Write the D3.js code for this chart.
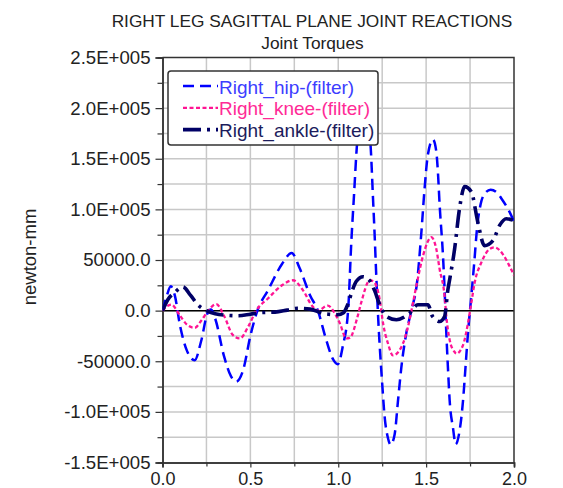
<!DOCTYPE html>
<html>
<head>
<meta charset="utf-8">
<script src="https://cdn.jsdelivr.net/npm/d3@7"></script>
<style>
  body { margin: 0; background: #fff; }
  text { font-family: "Liberation Sans", Arial, sans-serif; }
</style>
</head>
<body>
<div id="chart"></div>
<script>
// series data: [time, torque]
const hip = [[0,0],[0.025,15000],[0.047,24000],[0.07,15000],[0.1,-15000],[0.14,-40000],[0.183,-49000],
  [0.22,-30000],[0.255,-3000],[0.275,1000],[0.3,-8000],[0.35,-45000],[0.39,-65000],[0.42,-70000],
  [0.46,-58000],[0.5,-25000],[0.54,0],[0.6,20000],[0.68,46000],[0.735,57000],[0.78,42000],[0.84,15000],
  [0.884,0],[0.93,-28000],[0.97,-48000],[0.997,-53000],[1.026,-35000],[1.056,0],[1.075,70000],
  [1.09,115000],[1.105,160000],[1.125,192000],[1.145,200000],[1.165,192000],[1.185,160000],[1.198,110000],
  [1.207,75000],[1.215,40000],[1.228,-10000],[1.25,-72000],[1.264,-105000],[1.283,-126000],[1.298,-132500],
  [1.321,-122000],[1.34,-89000],[1.359,-56000],[1.387,-22500],[1.416,0],[1.448,27500],[1.473,77500],
  [1.491,120000],[1.51,154000],[1.539,169000],[1.558,157000],[1.567,137000],[1.577,104000],[1.596,54000],
  [1.605,21000],[1.615,-22500],[1.624,-56000],[1.634,-89000],[1.653,-116000],[1.668,-132000],[1.69,-119000],
  [1.71,-89000],[1.724,-56000],[1.738,-22500],[1.757,14000],[1.775,50000],[1.79,82000],[1.81,105000],
  [1.835,116000],[1.867,119500],[1.9,117000],[1.935,109000],[1.97,99000],[2.0,88000]]
const knee = [[0,0],[0.05,6000],[0.1,-5000],[0.14,-14000],[0.183,-17000],[0.22,-10000],[0.26,0],
  [0.306,6500],[0.35,-5000],[0.4,-24000],[0.44,-27500],[0.49,-15000],[0.533,0],[0.6,12000],[0.68,25000],
  [0.742,30000],[0.8,20000],[0.85,5000],[0.884,0],[0.94,5000],[0.98,-2500],[1.009,-12500],[1.046,-27500],
  [1.065,-27000],[1.11,-5800],[1.13,7500],[1.18,30000],[1.207,27500],[1.236,10800],[1.255,-12500],
  [1.283,-32500],[1.311,-44200],[1.368,-32500],[1.397,-15800],[1.425,7500],[1.448,27500],[1.482,54000],
  [1.53,72500],[1.558,60800],[1.577,40800],[1.605,14500],[1.615,-5800],[1.634,-29000],[1.662,-40800],
  [1.672,-42500],[1.71,-34000],[1.738,-12500],[1.757,7500],[1.776,27500],[1.814,47500],[1.861,60800],
  [1.889,62500],[1.936,55800],[1.974,44200],[2.0,35000]]
const ankle = [[0,0],[0.03,10800],[0.07,18000],[0.116,23500],[0.16,15000],[0.2,6000],[0.25,0],[0.3,-3000],
  [0.36,-4500],[0.43,-5000],[0.5,-3500],[0.56,-2000],[0.64,-1500],[0.71,500],[0.77,2300],[0.84,1500],
  [0.92,-3000],[0.997,-4000],[1.03,-2000],[1.054,6000],[1.08,20000],[1.103,29000],[1.141,33500],
  [1.179,29500],[1.207,19700],[1.236,5800],[1.274,-5800],[1.331,-9000],[1.406,-2500],[1.453,5800],
  [1.51,5800],[1.537,-5800],[1.577,-10800],[1.605,-5800],[1.624,20800],[1.634,30800],[1.662,60800],
  [1.69,100800],[1.719,122500],[1.757,117500],[1.794,87500],[1.832,64200],[1.88,69200],[1.918,84200],
  [1.956,90800],[2.0,89000]]

const seriesNames = ['Right_hip-(filter)', 'Right_knee-(filter)', 'Right_ankle-(filter)']
const yMajor = [-150000,-100000,-50000,0,50000,100000,150000,200000,250000]
const xMajor = [0,0.5,1.0,1.5,2.0]

const width = 563, height = 488
const pLeft = 162.5, pRight = 514, pTop = 57.5, pBottom = 462.5

const svg = d3.select('#chart').append('svg').attr('width', width).attr('height', height)

const x = d3.scaleLinear().domain([0,2]).range([pLeft,pRight])
const y = d3.scaleLinear().domain([-150000,250000]).range([pBottom,pTop])

// 网格
const grid = svg.append('g')
grid.selectAll('.gx').data(d3.range(0.25,2,0.25)).join('line')
  .attr('x1',d=>x(d)).attr('x2',d=>x(d)).attr('y1',pTop).attr('y2',pBottom)
  .attr('stroke','#c8c8c8').attr('stroke-width',1.5)
grid.selectAll('.gy').data(d3.range(-125000,250000,25000)).join('line')
  .attr('x1',pLeft).attr('x2',pRight).attr('y1',d=>y(d)).attr('y2',d=>y(d))
  .attr('stroke','#c8c8c8').attr('stroke-width',1.5)

// zero line
svg.append('line').attr('x1',pLeft).attr('x2',pRight).attr('y1',y(0)).attr('y2',y(0))
  .attr('stroke','#000').attr('stroke-width',1.5)

// axes
const fmtY = v => v===0 ? '0.0' : (Math.abs(v) < 100000 ? v.toFixed(1) : (v/1e5).toFixed(1)+'E+005')
svg.append('g').attr('class','yax').attr('transform',`translate(${pLeft},0)`)
  .call(d3.axisLeft(y).tickValues(yMajor).tickFormat(fmtY).tickSize(7).tickPadding(5))
svg.append('g').attr('transform',`translate(${pLeft},0)`)
  .call(d3.axisLeft(y).tickValues(d3.range(-125000,250000,50000)).tickFormat('').tickSize(5))
svg.append('g').attr('transform',`translate(0,${pBottom})`)
  .call(d3.axisBottom(x).tickValues(xMajor).tickFormat(d3.format('.1f')).tickSize(5).tickPadding(5))
svg.append('g').attr('transform',`translate(0,${pBottom})`)
  .call(d3.axisBottom(x).tickValues([0.25,0.75,1.25,1.75]).tickFormat('').tickSize(4))
svg.selectAll('.domain').attr('stroke','#333').attr('stroke-width',1.5)
svg.selectAll('.tick line').attr('stroke','#333').attr('stroke-width',1.2)
svg.selectAll('.tick text').attr('font-size',18).attr('fill','#222')
  .style('font-family','"Liberation Sans", Arial, sans-serif')
svg.selectAll('.yax .tick text').attr('font-size',18.6)

// frame top/right
svg.append('path').attr('d',`M${pLeft},${pTop}H${pRight}V${pBottom}`)
  .attr('fill','none').attr('stroke','#333').attr('stroke-width',1.5)

// curves
svg.append('clipPath').attr('id','clip').append('rect')
  .attr('x',pLeft).attr('y',pTop).attr('width',pRight-pLeft).attr('height',pBottom-pTop)
const line = d3.line().x(d=>x(d[0])).y(d=>y(d[1])).curve(d3.curveMonotoneX)
const styles = [
  {data: hip, color:'#0000ff', w:2.5, dash:'11,6', text:'#3d3dff'},
  {data: knee, color:'#ff1493', w:2.3, dash:'4,2.5', text:'#ff2a96'},
  {data: ankle, color:'#000066', w:3.6, dash:'18,6,3,6', text:'#1c1c5c'}
]
const plot = svg.append('g').attr('clip-path','url(#clip)')
styles.forEach(s => {
  plot.append('path').attr('d',line(s.data)).attr('fill','none')
    .attr('stroke',s.color).attr('stroke-width',s.w).attr('stroke-dasharray',s.dash)
})

// titles
svg.append('text').text('RIGHT LEG SAGITTAL PLANE JOINT REACTIONS')
  .attr('x',312).attr('y',27).attr('text-anchor','middle').attr('font-size',17.3).attr('fill','#222')
svg.append('text').text('Joint Torques')
  .attr('x',312.5).attr('y',48.5).attr('text-anchor','middle').attr('font-size',17.3).attr('fill','#222')
svg.append('text').text('newton-mm')
  .attr('transform','translate(36,257) rotate(-90)').attr('text-anchor','middle')
  .attr('font-size',18.5).attr('fill','#222')

// legend
const lg = svg.append('g')
lg.append('rect').attr('x',168).attr('y',71).attr('width',210).attr('height',74).attr('rx',3)
  .attr('fill','#fff').attr('stroke','#333').attr('stroke-width',1.5)
styles.forEach((s,i) => {
  const cy = 86 + i*21.8
  lg.append('line').attr('x1',183).attr('x2',218).attr('y1',cy).attr('y2',cy)
    .attr('stroke',s.color).attr('stroke-width',s.w).attr('stroke-dasharray',s.dash)
  lg.append('text').text(seriesNames[i]).attr('x',219).attr('y',cy+7.5)
    .attr('font-size',19).attr('fill',s.text)
})
</script>
</body>
</html>
